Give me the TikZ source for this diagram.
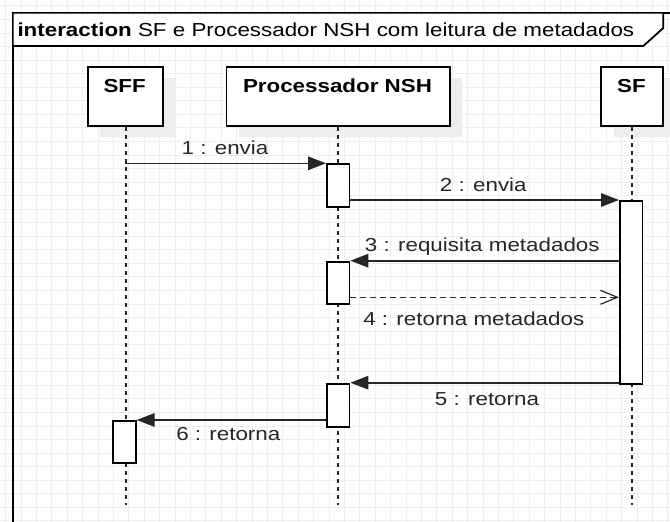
\documentclass[tikz,border=0pt]{standalone}
\usepackage{fontspec}
\setmainfont{Liberation Sans}[FakeStretch=1.19]
\usetikzlibrary{arrows.meta,shadows}
\definecolor{gridgray}{HTML}{EEEEEE}
\definecolor{ink}{HTML}{262626}

\begin{document}
\begin{tikzpicture}[x=1pt,y=-1pt,
  gridln/.style={draw=gridgray, line width=0.8pt},
  frameln/.style={draw=black, line width=1.8pt},
  txt/.style={font=\fontsize{18.8}{22}\selectfont, inner sep=0pt, anchor=base, text=ink},
  hdrtxt/.style={txt, font=\fontsize{18.8}{22}\selectfont\bfseries, text=black},
  hbox/.style={draw=black, fill=white, line width=1.8pt, inner sep=0pt, anchor=north west,
    general shadow={fill=black!7, shadow xshift=12.5pt, shadow yshift=-11pt}},
  life/.style={draw=black!85, line width=1.8pt, dash pattern=on 4pt off 4pt},
  act/.style={draw=black, fill=white, line width=1.8pt, minimum width=22.6pt, inner sep=0pt, anchor=north},
  msg/.style={draw=ink, line width=1.6pt, -{Triangle[length=18pt,width=13.5pt]}},
  reply/.style={draw=ink, line width=1.2pt, dash pattern=on 6pt off 4pt,
    -{Straight Barb[length=17pt,width=14pt,line width=1.2pt]}}
]
\useasboundingbox (0,0) rectangle (670,522);
\begin{scope}
\clip (0,0) rectangle (670,522);

% background grid
\foreach \i in {0,...,43}
  \draw[gridln] ({5.5+15.4*\i},0) -- ({5.5+15.4*\i},522);
\foreach \j in {0,...,38}
  \draw[gridln] (0,{5.85+13.55*\j}) -- (670,{5.85+13.55*\j});

% interaction frame and its name tab
\draw[frameln] (690,12.7) -- (12.7,12.7) -- (12.7,540);
\fill[white] (13.6,13.6) -- (662.4,13.6) -- (662.4,28) -- (643.3,45.1) -- (13.6,45.1) -- cycle;
\draw[frameln] (12.7,46) -- (643.3,46) -- (663.3,28) -- (663.3,12.7);
\node[txt, anchor=base west, text=black] (title) at (17.3,36)
  {\textbf{interaction} SF e Processador NSH com leitura de metadados};

% lifeline heads
\node[hbox, minimum width=75.4pt, minimum height=59.6pt] (sffbox) at (87,65.7) {};
\node[hbox, minimum width=223.1pt, minimum height=59.6pt] (procbox) at (225.6,65.7) {};
\node[hbox, minimum width=62pt, minimum height=59.6pt] (sfbox) at (600.4,65.7) {};
\node[hdrtxt] (sfflbl) at (124.7,92.7) {SFF};
\node[hdrtxt] (proclbl) at (337.5,92.7) {Processador NSH};
\node[hdrtxt] (sflbl) at (631.4,92.7) {SF};

% lifelines
\coordinate (bottom) at (0,505);
\draw[life] (sffbox.south) -- (sffbox.south |- bottom);
\draw[life] (procbox.south) -- (procbox.south |- bottom);
\draw[life] (sfbox.south) -- (sfbox.south |- bottom);

% activation bars
\node[act, minimum height=42.7pt] (p1) at (338.2,163.3) {};
\node[act, minimum height=182.7pt] (sf1) at (631.2,200) {};
\node[act, minimum height=42.6pt] (p2) at (338.2,260.7) {};
\node[act, minimum height=43pt] (p3) at (338.2,382.7) {};
\node[act, minimum height=42pt] (sff1) at (124.5,420) {};

% messages
\coordinate (m1) at (124.7,163.3);
\draw[msg] (m1) -- (m1 -| p1.west);
\coordinate (m2) at (349,200);
\draw[msg] (m2 -| p1.east) -- (m2 -| sf1.west);
\coordinate (m3) at (349,260.7);
\draw[msg] (m3 -| sf1.west) -- (m3 -| p2.east);
\coordinate (m4) at (349,297.3);
\draw[reply] (m4 -| p2.east) -- (m4 -| sf1.west);
\coordinate (m5) at (349,382.7);
\draw[msg] (m5 -| sf1.west) -- (m5 -| p3.east);
\coordinate (m6) at (349,420);
\draw[msg] (m6 -| p3.west) -- (m6 -| sff1.east);

% message labels
\node[txt] (l1) at (225,154) {1 : envia};
\node[txt] (l2) at (483.3,191.7) {2 : envia};
\node[txt] (l3) at (482.3,251) {3 : requisita metadados};
\node[txt] (l4) at (473.8,325) {4 : retorna metadados};
\node[txt] (l5) at (487,405) {5 : retorna};
\node[txt] (l6) at (228.3,440.7) {6 : retorna};
\end{scope}
\end{tikzpicture}
\end{document}
